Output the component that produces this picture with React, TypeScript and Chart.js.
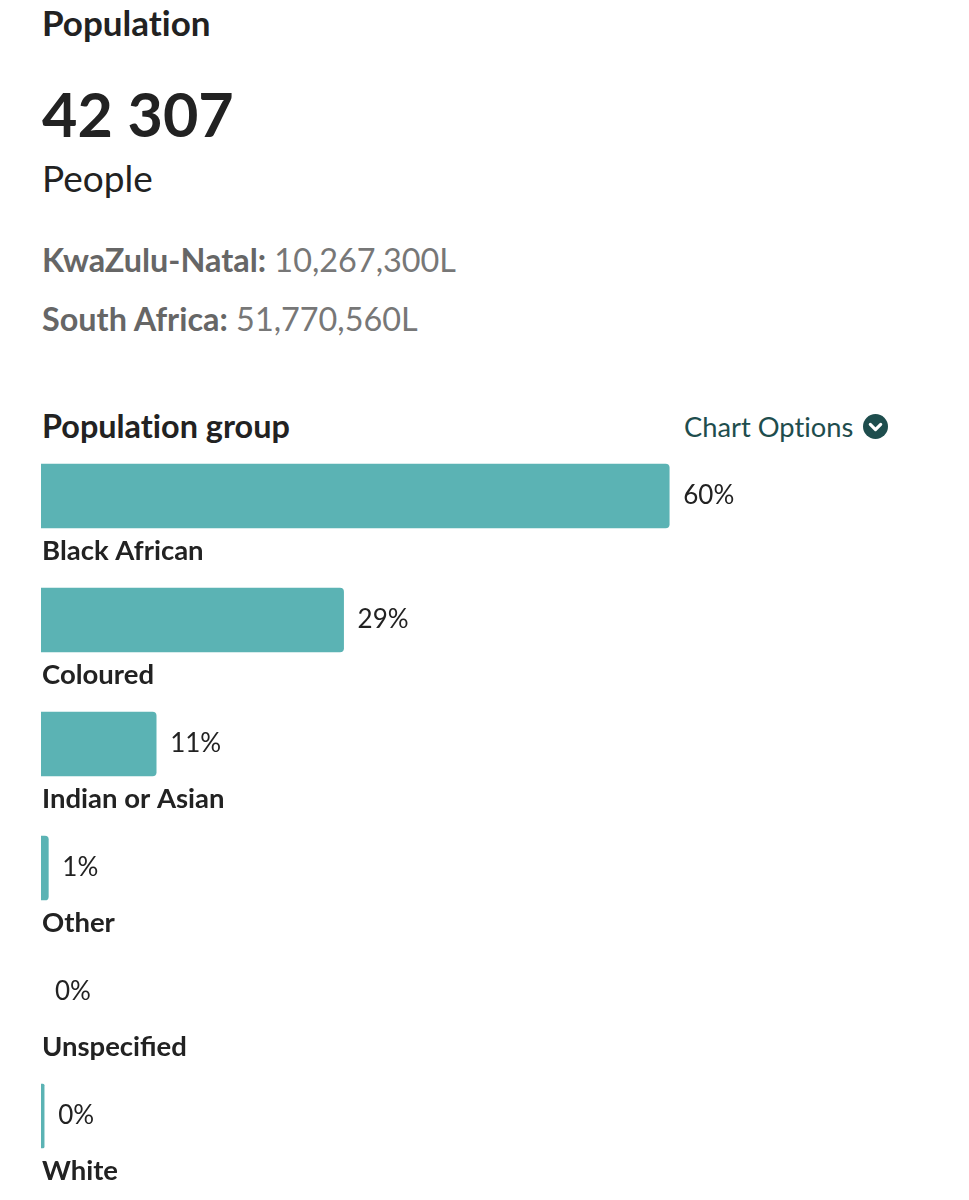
import React, { useEffect, useRef } from "react";
import { Chart, registerables } from "chart.js";

Chart.register(...registerables);

const categories = ["Black African", "Coloured", "Indian or Asian", "Other", "Unspecified", "White"];
const values = [60.0, 28.9, 11.0, 0.7, 0.0, 0.3];
const valueLabels = ["60%", "29%", "11%", "1%", "0%", "0%"];

const FONT = "Lato, 'Noto Sans', sans-serif";
const BAR_COLOR = "#5bb3b4";
const TEXT_DARK = "#222222";

const labelPlugin = {
  id: "rowLabels",
  afterDatasetsDraw(chart: any) {
    const ctx = chart.ctx;
    const meta = chart.getDatasetMeta(0);
    const left = chart.chartArea.left;
    ctx.save();
    meta.data.forEach((bar: any, i: number) => {
      const endX = Math.max(bar.x, left);
      ctx.fillStyle = TEXT_DARK;
      ctx.font = `400 26px ${FONT}`;
      ctx.textBaseline = "middle";
      ctx.textAlign = "left";
      ctx.fillText(valueLabels[i], endX + 14, bar.y);
      ctx.font = `700 27.5px ${FONT}`;
      ctx.textBaseline = "alphabetic";
      ctx.fillText(categories[i], left + 1, bar.y + 32 + 32);
    });
    ctx.restore();
  },
};

function BarChart() {
  const ref = useRef<HTMLCanvasElement | null>(null);
  useEffect(() => {
    if (!ref.current) return;
    const chart = new Chart(ref.current, {
      type: "bar",
      data: {
        labels: categories,
        datasets: [
          {
            data: values,
            backgroundColor: (c: any) => (c.raw > 0 ? BAR_COLOR : "rgba(0,0,0,0)"),
            borderRadius: 4,
            barThickness: 64,
          },
        ],
      },
      options: {
        indexAxis: "y",
        animation: false,
        responsive: false,
        maintainAspectRatio: false,
        layout: { padding: { left: 33, right: 30, top: 0, bottom: 14 } },
        scales: {
          x: { display: false, min: 0, max: 85 },
          y: { display: false },
        },
        plugins: { legend: { display: false }, tooltip: { enabled: false } },
      },
      plugins: [labelPlugin],
    } as any);
    return () => chart.destroy();
  }, []);
  return <canvas ref={ref} width={953} height={758} style={{ position: "absolute", left: 0, top: 426, width: 953, height: 758 }} />;
}

export default function App() {
  const abs = (top: number, extra: React.CSSProperties = {}): React.CSSProperties => ({
    position: "absolute",
    top,
    left: 34,
    lineHeight: 1,
    whiteSpace: "nowrap",
    fontFamily: FONT,
    fontVariantLigatures: "none",
    fontFeatureSettings: '"liga" 0, "dlig" 0',
    margin: 0,
    ...extra,
  });
  return (
    <div style={{ position: "relative", width: 953, height: 1184, overflow: "hidden", fontFamily: FONT, color: TEXT_DARK }}>
      <div style={abs(-3, { fontSize: 35, fontWeight: 700 })}>Population</div>
      <div style={abs(75, { fontSize: 61, fontWeight: 700 })}>42 307</div>
      <div style={abs(151, { fontSize: 37, fontWeight: 400 })}>People</div>
      <div style={abs(236, { fontSize: 32.4, color: "#777777" })}>
        <span style={{ fontWeight: 700, color: "#666666" }}>KwaZulu-Natal:</span> 10,267,300L
      </div>
      <div style={abs(295, { fontSize: 32.4, color: "#777777" })}>
        <span style={{ fontWeight: 700, color: "#666666" }}>South Africa:</span> 51,770,560L
      </div>
      <div style={abs(402, { fontSize: 32.4, fontWeight: 700 })}>Population group</div>
      <div style={abs(405, { left: 676, fontSize: 27.3, color: "#1e4d4d", display: "flex", alignItems: "center" })}>
        <span>Chart Options</span>
        <svg width="25" height="25" viewBox="0 0 24 24" style={{ marginLeft: 10 }}>
          <circle cx="12" cy="12" r="12" fill="#1e4d4d" />
          <path d="M7 10 L12 15 L17 10" stroke="#ffffff" strokeWidth="3" fill="none" strokeLinecap="round" strokeLinejoin="round" />
        </svg>
      </div>
      <BarChart />
    </div>
  );
}
